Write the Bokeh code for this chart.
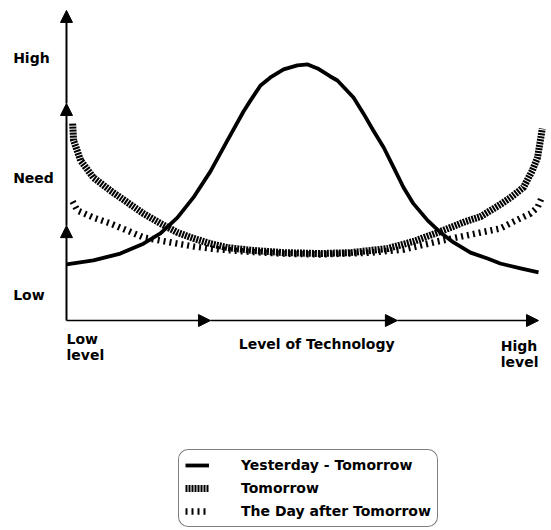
from bokeh.plotting import figure
from bokeh.models import Range1d, Arrow, NormalHead, Label, Legend, LegendItem
from bokeh.embed import file_html
from bokeh.resources import INLINE

# ---- data (level of technology 0..100, need 0..100) ----
yt_x = [0.0, 5.7, 11.4, 16.3, 19.9, 23.5, 26.9, 30.5, 34.1, 37.5, 39.0, 41.1, 43.2, 46.0, 48.9, 51.1,
        53.2, 55.9, 57.4, 60.8, 62.9, 65.0, 67.2, 69.3, 71.4, 73.5, 76.5, 79.2, 82.0, 85.6, 89.2, 91.9, 96.2, 100.0]
yt_y = [18.1, 19.4, 21.6, 24.8, 28.1, 33.2, 39.7, 48.1, 58.1, 67.4, 71.0, 75.8, 78.4, 81.0, 82.3, 82.6,
        81.3, 78.7, 77.4, 71.9, 66.8, 61.3, 55.8, 49.4, 42.9, 37.7, 32.3, 28.4, 25.2, 21.9, 20.0, 18.4, 16.8, 15.5]

tm_x = [1.3, 1.5, 3.0, 5.7, 9.3, 12.9, 16.3, 19.9, 23.5, 26.9, 30.5, 34.1, 39.6, 46.0, 53.8, 60.2,
        68.0, 73.5, 79.2, 84.5, 87.7, 91.9, 94.1, 96.8, 98.7, 99.8, 100.8]
tm_y = [63.5, 58.1, 51.6, 46.1, 41.9, 38.1, 34.5, 31.3, 28.4, 26.5, 24.8, 23.5, 22.6, 21.9, 21.6, 21.9,
        23.2, 25.5, 28.7, 31.9, 33.5, 37.4, 39.7, 42.9, 48.4, 52.6, 61.9]

da_x = [1.3, 2.3, 5.7, 9.3, 12.9, 16.3, 19.9, 23.5, 26.9, 30.5, 37.5, 45.3, 53.8, 64.4, 71.4, 78.6,
        85.6, 91.9, 94.7, 98.3, 99.8, 100.6]
da_y = [38.4, 35.5, 33.2, 31.3, 29.0, 26.8, 25.8, 24.8, 23.9, 23.2, 22.3, 21.6, 21.3, 21.9, 22.9, 25.5,
        27.7, 29.7, 31.9, 34.5, 36.5, 39.4]

series_names = ["Yesterday - Tomorrow", "Tomorrow", "The Day after Tomorrow"]
need_labels = ["High", "Need", "Low"]
need_levels = [84.5, 46.0, 8.1]

FONT = "DejaVu Sans"
FS = "14px"

p = figure(width=551, height=530, output_backend="svg", toolbar_location=None,
           x_range=Range1d(-13.98, 102.75), y_range=Range1d(-67.7, 103.2),
           min_border=0, outline_line_color=None)
p.axis.visible = False
p.grid.visible = False

# axes with arrows
for (y0, y1) in [(0, 30.6), (30.6, 70), (70, 100)]:
    p.add_layout(Arrow(end=NormalHead(size=12, fill_color="black", line_color="black"),
                       x_start=0, y_start=y0, x_end=0, y_end=y1, line_width=2, line_color="black"))
for (x0, x1) in [(0, 30.5), (30.5, 70.1), (70.1, 100)]:
    p.add_layout(Arrow(end=NormalHead(size=12, fill_color="black", line_color="black"),
                       x_start=x0, y_start=0, x_end=x1, y_end=0, line_width=1.5, line_color="black"))

r1 = p.line(yt_x, yt_y, line_color="black", line_width=3.8, line_join="round")
r2 = p.line(tm_x, tm_y, line_color="black", line_width=7, line_dash="2 1")
r3 = p.line(da_x, da_y, line_color="black", line_width=6.5, line_dash="2 4")

def lab(x, y, t, align="left"):
    p.add_layout(Label(x=x, y=y, text=t, text_font=FONT, text_font_style="bold",
                       text_font_size=FS, text_baseline="middle", text_align=align,
                       text_color="black"))

for t, yv in zip(need_labels, need_levels):
    lab(-11.3, yv, t)
lab(0, -5.8, "Low")
lab(0, -11.0, "level")
lab(53.0, -7.7, "Level of Technology", "center")
lab(92.0, -8.1, "High")
lab(92.0, -13.5, "level")

legend = Legend(items=[LegendItem(label=series_names[0], renderers=[r1]),
                       LegendItem(label=series_names[1], renderers=[r2]),
                       LegendItem(label=series_names[2], renderers=[r3])],
                location=(178, 3), orientation="vertical",
                label_text_font=FONT, label_text_font_style="bold", label_text_font_size=FS,
                label_text_color="black",
                glyph_width=24, glyph_height=18, label_height=18, spacing=5, padding=6,
                label_standoff=32, margin=0,
                border_line_color="black", border_line_width=1.5,
                background_fill_color="white", background_fill_alpha=1.0)
try:
    legend.border_radius = 10
except Exception:
    pass
p.add_layout(legend)

open("out.html", "w").write(file_html(p, INLINE))
